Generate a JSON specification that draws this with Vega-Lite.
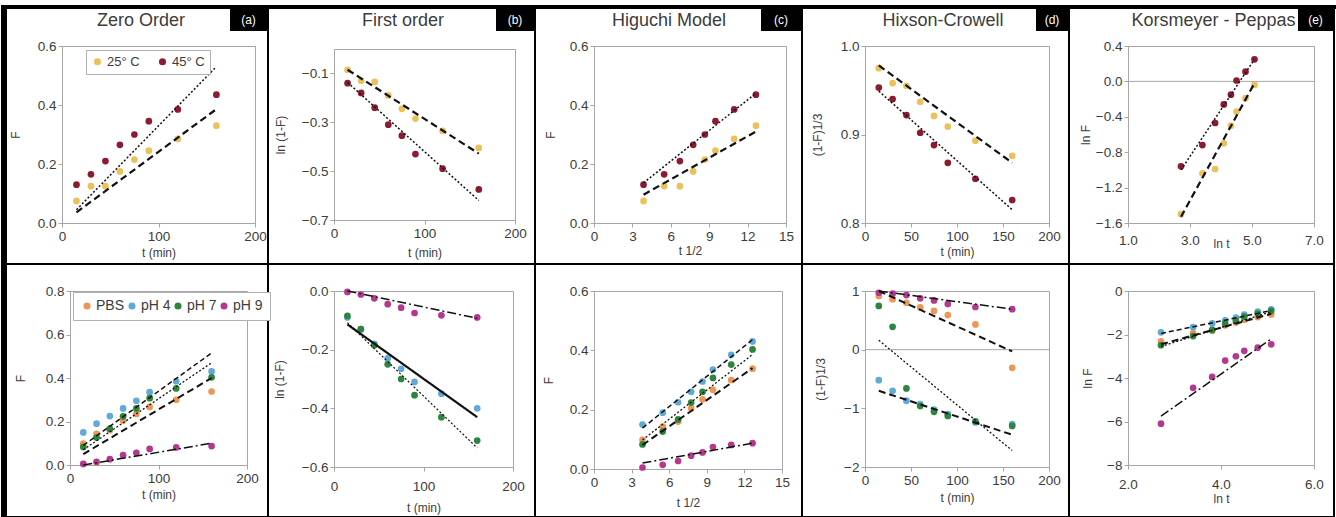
{
"$schema": "https://vega.github.io/schema/vega-lite/v6.json",
"background": "white",
"padding": {"left": 0, "top": 4, "right": 0, "bottom": 0},
"autosize": {"type": "pad"},
"config": {
 "font": "Liberation Sans",
 "view": {"stroke": "#a6a6a6"},
 "axis": {"grid": false, "domainColor": "#a6a6a6", "tickColor": "#a6a6a6", "tickSize": 4, "labelFont": "Liberation Sans", "labelFontSize": 13.5, "labelColor": "#3c3c3c", "titleFont": "Liberation Sans", "titleFontSize": 12, "titleFontWeight": "normal", "titleColor": "#3c3c3c", "labelFlush": false, "labelOverlap": false, "labelPadding": 2},
 "title": {"font": "Liberation Sans", "fontSize": 18, "fontWeight": "normal", "color": "#3c3c3c", "frame": "group", "anchor": "middle", "baseline": "alphabetic"},
 "legend": {"labelFont": "Liberation Sans", "labelColor": "#3c3c3c"}
},
"datasets": {
 "a": [{"s":"25° C","x":15,"y":0.075},{"s":"25° C","x":30,"y":0.125},{"s":"25° C","x":45,"y":0.125},{"s":"25° C","x":60,"y":0.175},{"s":"25° C","x":75,"y":0.215},{"s":"25° C","x":90,"y":0.245},{"s":"25° C","x":120,"y":0.285},{"s":"25° C","x":160,"y":0.33},
       {"s":"45° C","x":15,"y":0.13},{"s":"45° C","x":30,"y":0.165},{"s":"45° C","x":45,"y":0.21},{"s":"45° C","x":60,"y":0.265},{"s":"45° C","x":75,"y":0.3},{"s":"45° C","x":90,"y":0.345},{"s":"45° C","x":120,"y":0.385},{"s":"45° C","x":160,"y":0.435}],
 "a_fit": [{"s":"25° C","x":15,"y":0.036},{"s":"25° C","x":160,"y":0.386},{"s":"45° C","x":15,"y":0.045},{"s":"45° C","x":160,"y":0.53}],
 "b": [{"s":"25° C","x":15,"y":-0.085},{"s":"25° C","x":30,"y":-0.13},{"s":"25° C","x":45,"y":-0.135},{"s":"25° C","x":60,"y":-0.19},{"s":"25° C","x":75,"y":-0.245},{"s":"25° C","x":90,"y":-0.285},{"s":"25° C","x":120,"y":-0.335},{"s":"25° C","x":160,"y":-0.405},
       {"s":"45° C","x":15,"y":-0.14},{"s":"45° C","x":30,"y":-0.18},{"s":"45° C","x":45,"y":-0.24},{"s":"45° C","x":60,"y":-0.31},{"s":"45° C","x":75,"y":-0.355},{"s":"45° C","x":90,"y":-0.43},{"s":"45° C","x":120,"y":-0.49},{"s":"45° C","x":160,"y":-0.575}],
 "b_fit": [{"s":"25° C","x":15,"y":-0.085},{"s":"25° C","x":160,"y":-0.428},{"s":"45° C","x":15,"y":-0.137},{"s":"45° C","x":160,"y":-0.62}],
 "c": [{"s":"25° C","x":3.87,"y":0.075},{"s":"25° C","x":5.48,"y":0.125},{"s":"25° C","x":6.71,"y":0.125},{"s":"25° C","x":7.75,"y":0.175},{"s":"25° C","x":8.66,"y":0.215},{"s":"25° C","x":9.49,"y":0.245},{"s":"25° C","x":10.95,"y":0.285},{"s":"25° C","x":12.65,"y":0.33},
       {"s":"45° C","x":3.87,"y":0.13},{"s":"45° C","x":5.48,"y":0.165},{"s":"45° C","x":6.71,"y":0.21},{"s":"45° C","x":7.75,"y":0.265},{"s":"45° C","x":8.66,"y":0.3},{"s":"45° C","x":9.49,"y":0.345},{"s":"45° C","x":10.95,"y":0.385},{"s":"45° C","x":12.65,"y":0.435}],
 "c_fit": [{"s":"25° C","x":3.87,"y":0.096},{"s":"25° C","x":12.65,"y":0.31},{"s":"45° C","x":3.87,"y":0.136},{"s":"45° C","x":12.65,"y":0.44}],
 "d": [{"s":"25° C","x":15,"y":0.975},{"s":"25° C","x":30,"y":0.958},{"s":"25° C","x":45,"y":0.955},{"s":"25° C","x":60,"y":0.937},{"s":"25° C","x":75,"y":0.921},{"s":"25° C","x":90,"y":0.909},{"s":"25° C","x":120,"y":0.893},{"s":"25° C","x":160,"y":0.876},
       {"s":"45° C","x":15,"y":0.953},{"s":"45° C","x":30,"y":0.94},{"s":"45° C","x":45,"y":0.922},{"s":"45° C","x":60,"y":0.902},{"s":"45° C","x":75,"y":0.888},{"s":"45° C","x":90,"y":0.868},{"s":"45° C","x":120,"y":0.85},{"s":"45° C","x":160,"y":0.826}],
 "d_fit": [{"s":"25° C","x":15,"y":0.978},{"s":"25° C","x":160,"y":0.868},{"s":"45° C","x":15,"y":0.949},{"s":"45° C","x":160,"y":0.815}],
 "e": [{"s":"25° C","x":2.71,"y":-1.5},{"s":"25° C","x":3.4,"y":-1.04},{"s":"25° C","x":3.81,"y":-0.99},{"s":"25° C","x":4.09,"y":-0.7},{"s":"25° C","x":4.32,"y":-0.5},{"s":"25° C","x":4.5,"y":-0.34},{"s":"25° C","x":4.79,"y":-0.19},{"s":"25° C","x":5.08,"y":-0.04},
       {"s":"45° C","x":2.71,"y":-0.96},{"s":"45° C","x":3.4,"y":-0.72},{"s":"45° C","x":3.81,"y":-0.47},{"s":"45° C","x":4.09,"y":-0.26},{"s":"45° C","x":4.32,"y":-0.15},{"s":"45° C","x":4.5,"y":0.01},{"s":"45° C","x":4.79,"y":0.11},{"s":"45° C","x":5.08,"y":0.25}],
 "e_fit": [{"s":"25° C","x":2.71,"y":-1.53},{"s":"25° C","x":5.08,"y":-0.02},{"s":"45° C","x":2.71,"y":-1.0},{"s":"45° C","x":5.08,"y":0.25}],
 "f": [{"s":"PBS","x":15,"y":0.098},{"s":"PBS","x":30,"y":0.143},{"s":"PBS","x":45,"y":0.16},{"s":"PBS","x":60,"y":0.205},{"s":"PBS","x":75,"y":0.235},{"s":"PBS","x":90,"y":0.267},{"s":"PBS","x":120,"y":0.3},{"s":"PBS","x":160,"y":0.338},
       {"s":"pH 4","x":15,"y":0.15},{"s":"pH 4","x":30,"y":0.19},{"s":"pH 4","x":45,"y":0.225},{"s":"pH 4","x":60,"y":0.26},{"s":"pH 4","x":75,"y":0.295},{"s":"pH 4","x":90,"y":0.335},{"s":"pH 4","x":120,"y":0.385},{"s":"pH 4","x":160,"y":0.43},
       {"s":"pH 7","x":15,"y":0.083},{"s":"pH 7","x":30,"y":0.126},{"s":"pH 7","x":45,"y":0.167},{"s":"pH 7","x":60,"y":0.224},{"s":"pH 7","x":75,"y":0.26},{"s":"pH 7","x":90,"y":0.307},{"s":"pH 7","x":120,"y":0.352},{"s":"pH 7","x":160,"y":0.403},
       {"s":"pH 9","x":15,"y":0.005},{"s":"pH 9","x":30,"y":0.014},{"s":"pH 9","x":45,"y":0.027},{"s":"pH 9","x":60,"y":0.045},{"s":"pH 9","x":75,"y":0.056},{"s":"pH 9","x":90,"y":0.074},{"s":"pH 9","x":120,"y":0.081},{"s":"pH 9","x":160,"y":0.087}],
 "f_fit": [{"s":"PBS","x":15,"y":0.05},{"s":"PBS","x":160,"y":0.4},{"s":"pH 4","x":15,"y":0.09},{"s":"pH 4","x":160,"y":0.515},{"s":"pH 7","x":15,"y":0.07},{"s":"pH 7","x":160,"y":0.47},{"s":"pH 9","x":15,"y":0.0},{"s":"pH 9","x":160,"y":0.1}],
 "g": [{"s":"pH 4","x":15,"y":-0.09},{"s":"pH 4","x":30,"y":-0.13},{"s":"pH 4","x":45,"y":-0.18},{"s":"pH 4","x":60,"y":-0.23},{"s":"pH 4","x":75,"y":-0.265},{"s":"pH 4","x":90,"y":-0.31},{"s":"pH 4","x":120,"y":-0.35},{"s":"pH 4","x":160,"y":-0.4},
       {"s":"pH 7","x":15,"y":-0.085},{"s":"pH 7","x":30,"y":-0.13},{"s":"pH 7","x":45,"y":-0.185},{"s":"pH 7","x":60,"y":-0.25},{"s":"pH 7","x":75,"y":-0.3},{"s":"pH 7","x":90,"y":-0.355},{"s":"pH 7","x":120,"y":-0.43},{"s":"pH 7","x":160,"y":-0.51},
       {"s":"pH 9","x":15,"y":-0.003},{"s":"pH 9","x":30,"y":-0.012},{"s":"pH 9","x":45,"y":-0.025},{"s":"pH 9","x":60,"y":-0.045},{"s":"pH 9","x":75,"y":-0.057},{"s":"pH 9","x":90,"y":-0.075},{"s":"pH 9","x":120,"y":-0.083},{"s":"pH 9","x":160,"y":-0.09}],
 "g_fit": [{"s":"pH 4","x":15,"y":-0.114},{"s":"pH 4","x":160,"y":-0.43},{"s":"pH 7","x":15,"y":-0.108},{"s":"pH 7","x":160,"y":-0.535},{"s":"pH 9","x":15,"y":0.0},{"s":"pH 9","x":160,"y":-0.093}],
 "h": [{"s":"PBS","x":3.87,"y":0.098},{"s":"PBS","x":5.48,"y":0.143},{"s":"PBS","x":6.71,"y":0.16},{"s":"PBS","x":7.75,"y":0.205},{"s":"PBS","x":8.66,"y":0.235},{"s":"PBS","x":9.49,"y":0.267},{"s":"PBS","x":10.95,"y":0.3},{"s":"PBS","x":12.65,"y":0.338},
       {"s":"pH 4","x":3.87,"y":0.15},{"s":"pH 4","x":5.48,"y":0.19},{"s":"pH 4","x":6.71,"y":0.225},{"s":"pH 4","x":7.75,"y":0.26},{"s":"pH 4","x":8.66,"y":0.295},{"s":"pH 4","x":9.49,"y":0.335},{"s":"pH 4","x":10.95,"y":0.385},{"s":"pH 4","x":12.65,"y":0.43},
       {"s":"pH 7","x":3.87,"y":0.083},{"s":"pH 7","x":5.48,"y":0.126},{"s":"pH 7","x":6.71,"y":0.167},{"s":"pH 7","x":7.75,"y":0.224},{"s":"pH 7","x":8.66,"y":0.26},{"s":"pH 7","x":9.49,"y":0.307},{"s":"pH 7","x":10.95,"y":0.352},{"s":"pH 7","x":12.65,"y":0.403},
       {"s":"pH 9","x":3.87,"y":0.005},{"s":"pH 9","x":5.48,"y":0.014},{"s":"pH 9","x":6.71,"y":0.027},{"s":"pH 9","x":7.75,"y":0.045},{"s":"pH 9","x":8.66,"y":0.056},{"s":"pH 9","x":9.49,"y":0.074},{"s":"pH 9","x":10.95,"y":0.081},{"s":"pH 9","x":12.65,"y":0.087}],
 "h_fit": [{"s":"PBS","x":3.87,"y":0.081},{"s":"PBS","x":12.65,"y":0.34},{"s":"pH 4","x":3.87,"y":0.138},{"s":"pH 4","x":12.65,"y":0.436},{"s":"pH 7","x":3.87,"y":0.098},{"s":"pH 7","x":12.65,"y":0.386},{"s":"pH 9","x":3.87,"y":0.02},{"s":"pH 9","x":12.65,"y":0.087}],
 "i": [{"s":"PBS","x":15,"y":0.915},{"s":"PBS","x":30,"y":0.86},{"s":"PBS","x":45,"y":0.8},{"s":"PBS","x":60,"y":0.72},{"s":"PBS","x":75,"y":0.66},{"s":"PBS","x":90,"y":0.59},{"s":"PBS","x":120,"y":0.43},{"s":"PBS","x":160,"y":-0.31},
       {"s":"pH 4","x":15,"y":-0.52},{"s":"pH 4","x":30,"y":-0.7},{"s":"pH 4","x":45,"y":-0.87},{"s":"pH 4","x":60,"y":-0.93},{"s":"pH 4","x":75,"y":-1.02},{"s":"pH 4","x":90,"y":-1.1},{"s":"pH 4","x":120,"y":-1.24},{"s":"pH 4","x":160,"y":-1.27},
       {"s":"pH 7","x":15,"y":0.745},{"s":"pH 7","x":30,"y":0.39},{"s":"pH 7","x":45,"y":-0.66},{"s":"pH 7","x":60,"y":-0.96},{"s":"pH 7","x":75,"y":-1.06},{"s":"pH 7","x":90,"y":-1.13},{"s":"pH 7","x":120,"y":-1.22},{"s":"pH 7","x":160,"y":-1.3},
       {"s":"pH 9","x":15,"y":0.97},{"s":"pH 9","x":30,"y":0.955},{"s":"pH 9","x":45,"y":0.93},{"s":"pH 9","x":60,"y":0.875},{"s":"pH 9","x":75,"y":0.84},{"s":"pH 9","x":90,"y":0.78},{"s":"pH 9","x":120,"y":0.727},{"s":"pH 9","x":160,"y":0.69}],
 "i_fit": [{"s":"PBS","x":15,"y":1.0},{"s":"PBS","x":160,"y":-0.03},{"s":"pH 4","x":15,"y":-0.7},{"s":"pH 4","x":160,"y":-1.45},{"s":"pH 7","x":15,"y":0.16},{"s":"pH 7","x":160,"y":-1.72},{"s":"pH 9","x":15,"y":1.0},{"s":"pH 9","x":160,"y":0.69}],
 "j": [{"s":"PBS","x":2.71,"y":-2.32},{"s":"PBS","x":3.4,"y":-1.94},{"s":"PBS","x":3.81,"y":-1.83},{"s":"PBS","x":4.09,"y":-1.58},{"s":"PBS","x":4.32,"y":-1.45},{"s":"PBS","x":4.5,"y":-1.32},{"s":"PBS","x":4.79,"y":-1.2},{"s":"PBS","x":5.08,"y":-1.08},
       {"s":"pH 4","x":2.71,"y":-1.9},{"s":"pH 4","x":3.4,"y":-1.66},{"s":"pH 4","x":3.81,"y":-1.49},{"s":"pH 4","x":4.09,"y":-1.35},{"s":"pH 4","x":4.32,"y":-1.22},{"s":"pH 4","x":4.5,"y":-1.09},{"s":"pH 4","x":4.79,"y":-0.95},{"s":"pH 4","x":5.08,"y":-0.84},
       {"s":"pH 7","x":2.71,"y":-2.49},{"s":"pH 7","x":3.4,"y":-2.07},{"s":"pH 7","x":3.81,"y":-1.79},{"s":"pH 7","x":4.09,"y":-1.5},{"s":"pH 7","x":4.32,"y":-1.35},{"s":"pH 7","x":4.5,"y":-1.18},{"s":"pH 7","x":4.79,"y":-1.04},{"s":"pH 7","x":5.08,"y":-0.91},
       {"s":"pH 9","x":2.71,"y":-6.1},{"s":"pH 9","x":3.4,"y":-4.45},{"s":"pH 9","x":3.81,"y":-3.95},{"s":"pH 9","x":4.09,"y":-3.2},{"s":"pH 9","x":4.32,"y":-3.0},{"s":"pH 9","x":4.5,"y":-2.75},{"s":"pH 9","x":4.79,"y":-2.6},{"s":"pH 9","x":5.08,"y":-2.45}],
 "j_fit": [{"s":"PBS","x":2.71,"y":-2.45},{"s":"PBS","x":5.08,"y":-1.05},{"s":"pH 4","x":2.71,"y":-1.95},{"s":"pH 4","x":5.08,"y":-0.9},{"s":"pH 7","x":2.71,"y":-2.55},{"s":"pH 7","x":5.08,"y":-0.95},{"s":"pH 9","x":2.71,"y":-5.75},{"s":"pH 9","x":5.08,"y":-2.2}]
},
"columns": 5,
"spacing": {"row": 68, "column": 79},
"bounds": "flush",
"align": "each",
"center": true,
"resolve": {"scale": {"x": "independent", "y": "independent", "color": "independent", "strokeDash": "independent", "strokeWidth": "independent"}},
"concat": [
 {"width": 193, "height": 177,
  "title": {"text": "Zero Order", "dx": -17.5, "offset": 9},
  "layer": [
   {"data": {"name": "a"}, "mark": {"type": "circle", "size": 45, "opacity": 1},
    "encoding": {
     "x": {"field": "x", "type": "quantitative", "scale": {"domain": [0, 200], "nice": false, "zero": false}, "axis": {"title": "t (min)", "values": [0, 100, 200], "tickCount": 12, "labelOverlap": false, "minExtent": 20, "maxExtent": 20, "titlePadding": 4}},
     "y": {"field": "y", "type": "quantitative", "scale": {"domain": [0, 0.6], "nice": false, "zero": false}, "axis": {"title": "F", "values": [0, 0.2, 0.4, 0.6], "tickCount": 12, "labelOverlap": false, "format": ".1f", "minExtent": 28, "maxExtent": 28, "titlePadding": 12}},
     "color": {"field": "s", "type": "nominal", "scale": {"domain": ["25° C", "45° C"], "range": ["#ecc05a", "#8b1a33"]},
      "legend": {"orient": "none", "legendX": 24, "legendY": 4, "direction": "horizontal", "title": null, "fillColor": "white", "strokeColor": "#b0b0b0", "padding": 5, "labelFontSize": 13, "symbolSize": 50, "symbolType": "circle", "columnPadding": 16, "labelOffset": 3}}}},
   {"data": {"name": "a_fit"}, "mark": {"type": "line", "color": "#111111"},
    "encoding": {
     "x": {"field": "x", "type": "quantitative", "scale": {"domain": [0, 200], "nice": false, "zero": false}, "axis": {"title": "t (min)"}},
     "y": {"field": "y", "type": "quantitative", "scale": {"domain": [0, 0.6], "nice": false, "zero": false}, "axis": {"title": "F"}},
     "strokeDash": {"field": "s", "type": "nominal", "scale": {"domain": ["25° C", "45° C"], "range": [[7, 4], [2, 2]]}, "legend": null},
     "strokeWidth": {"field": "s", "type": "ordinal", "scale": {"type": "ordinal", "domain": ["25° C", "45° C"], "range": [2.2, 1.5]}, "legend": null}}}
  ]},
 {"width": 181, "height": 171,
  "title": {"text": "First order", "dx": -21.5, "offset": 19},
  "layer": [
   {"data": {"name": "b"}, "mark": {"type": "circle", "size": 45, "opacity": 1},
    "encoding": {
     "x": {"field": "x", "type": "quantitative", "scale": {"domain": [0, 200], "nice": false, "zero": false}, "axis": {"title": "t (min)", "values": [0, 100, 200], "tickCount": 12, "labelOverlap": false, "minExtent": 20, "maxExtent": 20, "titlePadding": 7}},
     "y": {"field": "y", "type": "quantitative", "scale": {"domain": [-0.7, 0], "nice": false, "zero": false}, "axis": {"title": "ln (1-F)", "values": [-0.7, -0.5, -0.3, -0.1], "tickCount": 12, "labelOverlap": false, "format": ".1f", "minExtent": 28, "maxExtent": 28, "titlePadding": 19}},
     "color": {"field": "s", "type": "nominal", "scale": {"domain": ["25° C", "45° C"], "range": ["#ecc05a", "#8b1a33"]}, "legend": null}}},
   {"data": {"name": "b_fit"}, "mark": {"type": "line", "color": "#111111"},
    "encoding": {
     "x": {"field": "x", "type": "quantitative", "scale": {"domain": [0, 200], "nice": false, "zero": false}, "axis": {"title": "t (min)"}},
     "y": {"field": "y", "type": "quantitative", "scale": {"domain": [-0.7, 0], "nice": false, "zero": false}, "axis": {"title": "ln (1-F)"}},
     "strokeDash": {"field": "s", "type": "nominal", "scale": {"domain": ["25° C", "45° C"], "range": [[7, 4], [2, 2]]}, "legend": null},
     "strokeWidth": {"field": "s", "type": "ordinal", "scale": {"type": "ordinal", "domain": ["25° C", "45° C"], "range": [2.2, 1.5]}, "legend": null}}}
  ]},
 {"width": 192, "height": 177,
  "title": {"text": "Higuchi Model", "dx": -21, "offset": 9},
  "layer": [
   {"data": {"name": "c"}, "mark": {"type": "circle", "size": 45, "opacity": 1},
    "encoding": {
     "x": {"field": "x", "type": "quantitative", "scale": {"domain": [0, 15], "nice": false, "zero": false}, "axis": {"title": "t 1/2", "values": [0, 3, 6, 9, 12, 15], "tickCount": 12, "labelOverlap": false, "minExtent": 20, "maxExtent": 20, "titlePadding": 2}},
     "y": {"field": "y", "type": "quantitative", "scale": {"domain": [0, 0.6], "nice": false, "zero": false}, "axis": {"title": "F", "values": [0, 0.2, 0.4, 0.6], "tickCount": 12, "labelOverlap": false, "format": ".1f", "minExtent": 28, "maxExtent": 28, "titlePadding": 9}},
     "color": {"field": "s", "type": "nominal", "scale": {"domain": ["25° C", "45° C"], "range": ["#ecc05a", "#8b1a33"]}, "legend": null}}},
   {"data": {"name": "c_fit"}, "mark": {"type": "line", "color": "#111111"},
    "encoding": {
     "x": {"field": "x", "type": "quantitative", "scale": {"domain": [0, 15], "nice": false, "zero": false}, "axis": {"title": "t 1/2"}},
     "y": {"field": "y", "type": "quantitative", "scale": {"domain": [0, 0.6], "nice": false, "zero": false}, "axis": {"title": "F"}},
     "strokeDash": {"field": "s", "type": "nominal", "scale": {"domain": ["25° C", "45° C"], "range": [[7, 4], [2, 2]]}, "legend": null},
     "strokeWidth": {"field": "s", "type": "ordinal", "scale": {"type": "ordinal", "domain": ["25° C", "45° C"], "range": [2.2, 1.5]}, "legend": null}}}
  ]},
 {"width": 184, "height": 177,
  "title": {"text": "Hixson-Crowell", "dx": -14, "offset": 9},
  "layer": [
   {"data": {"name": "d"}, "mark": {"type": "circle", "size": 45, "opacity": 1},
    "encoding": {
     "x": {"field": "x", "type": "quantitative", "scale": {"domain": [0, 200], "nice": false, "zero": false}, "axis": {"title": "t (min)", "values": [0, 50, 100, 150, 200], "tickCount": 12, "labelOverlap": false, "minExtent": 20, "maxExtent": 20, "titlePadding": 3}},
     "y": {"field": "y", "type": "quantitative", "scale": {"domain": [0.8, 1.0], "nice": false, "zero": false}, "axis": {"title": "(1-F)1/3", "values": [0.8, 0.9, 1.0], "tickCount": 12, "labelOverlap": false, "format": ".1f", "minExtent": 28, "maxExtent": 28, "titlePadding": 13}},
     "color": {"field": "s", "type": "nominal", "scale": {"domain": ["25° C", "45° C"], "range": ["#ecc05a", "#8b1a33"]}, "legend": null}}},
   {"data": {"name": "d_fit"}, "mark": {"type": "line", "color": "#111111"},
    "encoding": {
     "x": {"field": "x", "type": "quantitative", "scale": {"domain": [0, 200], "nice": false, "zero": false}, "axis": {"title": "t (min)"}},
     "y": {"field": "y", "type": "quantitative", "scale": {"domain": [0.8, 1.0], "nice": false, "zero": false}, "axis": {"title": "(1-F)1/3"}},
     "strokeDash": {"field": "s", "type": "nominal", "scale": {"domain": ["25° C", "45° C"], "range": [[7, 4], [2, 2]]}, "legend": null},
     "strokeWidth": {"field": "s", "type": "ordinal", "scale": {"type": "ordinal", "domain": ["25° C", "45° C"], "range": [2.2, 1.5]}, "legend": null}}}
  ]},
 {"width": 186, "height": 177,
  "title": {"text": "Korsmeyer - Peppas", "dx": -7.5, "offset": 9},
  "layer": [
   {"data": {"values": [{}]}, "mark": {"type": "rule", "color": "#a6a6a6"}, "encoding": {"y": {"datum": 0, "scale": {"domain": [-1.6, 0.4], "nice": false, "zero": false}}}},
   {"data": {"name": "e"}, "mark": {"type": "circle", "size": 45, "opacity": 1},
    "encoding": {
     "x": {"field": "x", "type": "quantitative", "scale": {"domain": [1, 7], "nice": false, "zero": false}, "axis": {"title": "ln t", "values": [1, 3, 5, 7], "tickCount": 12, "labelOverlap": false, "format": ".1f", "labelPadding": 6, "minExtent": 20, "maxExtent": 20, "titlePadding": -5}},
     "y": {"field": "y", "type": "quantitative", "scale": {"domain": [-1.6, 0.4], "nice": false, "zero": false}, "axis": {"title": "ln F", "values": [-1.6, -1.2, -0.8, -0.4, 0, 0.4], "tickCount": 12, "labelOverlap": false, "format": ".1f", "minExtent": 28, "maxExtent": 28, "titlePadding": 8}},
     "color": {"field": "s", "type": "nominal", "scale": {"domain": ["25° C", "45° C"], "range": ["#ecc05a", "#8b1a33"]}, "legend": null}}},
   {"data": {"name": "e_fit"}, "mark": {"type": "line", "color": "#111111"},
    "encoding": {
     "x": {"field": "x", "type": "quantitative", "scale": {"domain": [1, 7], "nice": false, "zero": false}, "axis": {"title": "ln t"}},
     "y": {"field": "y", "type": "quantitative", "scale": {"domain": [-1.6, 0.4], "nice": false, "zero": false}, "axis": {"title": "ln F"}},
     "strokeDash": {"field": "s", "type": "nominal", "scale": {"domain": ["25° C", "45° C"], "range": [[7, 4], [2, 2]]}, "legend": null},
     "strokeWidth": {"field": "s", "type": "ordinal", "scale": {"type": "ordinal", "domain": ["25° C", "45° C"], "range": [2.2, 1.5]}, "legend": null}}}
  ]},
 {"width": 177, "height": 174,
  "layer": [
   {"data": {"values": [{}]}, "mark": {"type": "rect", "color": "black"}, "encoding": {"x": {"datum": -77.966}, "x2": {"datum": -71.186}, "y": {"datum": 2.11494}, "y2": {"datum": -0.24368}}},
   {"data": {"values": [{}]}, "mark": {"type": "rect", "color": "black"}, "encoding": {"x": {"datum": -77.966}, "x2": {"datum": 1431.638}, "y": {"datum": 2.11494}, "y2": {"datum": 2.09655}}},
   {"data": {"values": [{}]}, "mark": {"type": "rect", "color": "black"}, "encoding": {"x": {"datum": 222.599}, "x2": {"datum": 224.859}, "y": {"datum": 2.09655}, "y2": {"datum": -0.24368}}},
   {"data": {"values": [{}]}, "mark": {"type": "rect", "color": "black"}, "encoding": {"x": {"datum": 524.294}, "x2": {"datum": 526.554}, "y": {"datum": 2.09655}, "y2": {"datum": -0.24368}}},
   {"data": {"values": [{}]}, "mark": {"type": "rect", "color": "black"}, "encoding": {"x": {"datum": 825.989}, "x2": {"datum": 828.249}, "y": {"datum": 2.09655}, "y2": {"datum": -0.24368}}},
   {"data": {"values": [{}]}, "mark": {"type": "rect", "color": "black"}, "encoding": {"x": {"datum": 1127.684}, "x2": {"datum": 1129.944}, "y": {"datum": 2.09655}, "y2": {"datum": -0.24368}}},
   {"data": {"values": [{}]}, "mark": {"type": "rect", "color": "black"}, "encoding": {"x": {"datum": 1427.119}, "x2": {"datum": 1429.379}, "y": {"datum": 2.09655}, "y2": {"datum": -0.24368}}},
   {"data": {"values": [{}]}, "mark": {"type": "rect", "color": "black"}, "encoding": {"x": {"datum": -77.966}, "x2": {"datum": 1429.379}, "y": {"datum": 0.92874}, "y2": {"datum": 0.91954}}},
   {"data": {"values": [{}]}, "mark": {"type": "rect", "color": "black"}, "encoding": {"x": {"datum": -77.966}, "x2": {"datum": 1429.379}, "y": {"datum": -0.23448}, "y2": {"datum": -0.24368}}},
   {"data": {"values": [{}]}, "mark": {"type": "rect", "color": "black"}, "encoding": {"x": {"datum": 180.791}, "x2": {"datum": 222.599}, "y": {"datum": 2.09655}, "y2": {"datum": 1.9954}}},
   {"data": {"values": [{}]}, "mark": {"type": "rect", "color": "black"}, "encoding": {"x": {"datum": 481.356}, "x2": {"datum": 524.294}, "y": {"datum": 2.09655}, "y2": {"datum": 1.9954}}},
   {"data": {"values": [{}]}, "mark": {"type": "rect", "color": "black"}, "encoding": {"x": {"datum": 780.791}, "x2": {"datum": 825.989}, "y": {"datum": 2.09655}, "y2": {"datum": 1.9954}}},
   {"data": {"values": [{}]}, "mark": {"type": "rect", "color": "black"}, "encoding": {"x": {"datum": 1091.525}, "x2": {"datum": 1127.684}, "y": {"datum": 2.09655}, "y2": {"datum": 1.9954}}},
   {"data": {"values": [{}]}, "mark": {"type": "rect", "color": "black"}, "encoding": {"x": {"datum": 1387.571}, "x2": {"datum": 1427.119}, "y": {"datum": 2.09655}, "y2": {"datum": 1.9954}}},
   {"data": {"values": [{}]}, "mark": {"type": "text", "color": "white", "fontSize": 12, "align": "center", "baseline": "middle", "text": "(a)"}, "encoding": {"x": {"datum": 201.695}, "y": {"datum": 2.04598}}},
   {"data": {"values": [{}]}, "mark": {"type": "text", "color": "white", "fontSize": 12, "align": "center", "baseline": "middle", "text": "(b)"}, "encoding": {"x": {"datum": 502.825}, "y": {"datum": 2.04598}}},
   {"data": {"values": [{}]}, "mark": {"type": "text", "color": "white", "fontSize": 12, "align": "center", "baseline": "middle", "text": "(c)"}, "encoding": {"x": {"datum": 803.39}, "y": {"datum": 2.04598}}},
   {"data": {"values": [{}]}, "mark": {"type": "text", "color": "white", "fontSize": 12, "align": "center", "baseline": "middle", "text": "(d)"}, "encoding": {"x": {"datum": 1109.605}, "y": {"datum": 2.04598}}},
   {"data": {"values": [{}]}, "mark": {"type": "text", "color": "white", "fontSize": 12, "align": "center", "baseline": "middle", "text": "(e)"}, "encoding": {"x": {"datum": 1407.345}, "y": {"datum": 2.04598}}},
   {"data": {"name": "f"}, "mark": {"type": "circle", "size": 45, "opacity": 1},
    "encoding": {
     "x": {"field": "x", "type": "quantitative", "scale": {"domain": [0, 200], "nice": false, "zero": false}, "axis": {"title": "t (min)", "values": [0, 100, 200], "tickCount": 12, "labelOverlap": false, "minExtent": 20, "maxExtent": 20, "titlePadding": 4}},
     "y": {"field": "y", "type": "quantitative", "scale": {"domain": [0, 0.8], "nice": false, "zero": false}, "axis": {"title": "F", "values": [0, 0.2, 0.4, 0.6, 0.8], "tickCount": 12, "labelOverlap": false, "format": ".1f", "minExtent": 28, "maxExtent": 28, "titlePadding": 15}},
     "color": {"field": "s", "type": "nominal", "scale": {"domain": ["PBS", "pH 4", "pH 7", "pH 9"], "range": ["#ee9655", "#62a9d6", "#2e8540", "#b3398f"]},
      "legend": {"orient": "none", "legendX": 3, "legendY": 1, "direction": "horizontal", "title": null, "fillColor": "white", "strokeColor": "#b0b0b0", "padding": 7, "labelFontSize": 14, "symbolSize": 50, "symbolType": "circle", "columnPadding": 0, "labelOffset": 2}}}},
   {"data": {"name": "f_fit"}, "mark": {"type": "line", "color": "#111111"},
    "encoding": {
     "x": {"field": "x", "type": "quantitative", "scale": {"domain": [0, 200], "nice": false, "zero": false}, "axis": {"title": "t (min)"}},
     "y": {"field": "y", "type": "quantitative", "scale": {"domain": [0, 0.8], "nice": false, "zero": false}, "axis": {"title": "F"}},
     "strokeDash": {"field": "s", "type": "nominal", "scale": {"domain": ["PBS", "pH 4", "pH 7", "pH 9"], "range": [[7, 4], [5, 3], [2, 2], [9, 3, 2, 3]]}, "legend": null},
     "strokeWidth": {"field": "s", "type": "ordinal", "scale": {"type": "ordinal", "domain": ["PBS", "pH 4", "pH 7", "pH 9"], "range": [2, 1.5, 1.3, 1.5]}, "legend": null}}}
  ]},
 {"width": 179, "height": 176,
  "layer": [
   {"data": {"name": "g"}, "mark": {"type": "circle", "size": 45, "opacity": 1},
    "encoding": {
     "x": {"field": "x", "type": "quantitative", "scale": {"domain": [0, 200], "nice": false, "zero": false}, "axis": {"title": "t (min)", "values": [0, 100, 200], "tickCount": 12, "labelOverlap": false, "labelPadding": 8, "minExtent": 20, "maxExtent": 20, "titlePadding": 15}},
     "y": {"field": "y", "type": "quantitative", "scale": {"domain": [-0.6, 0], "nice": false, "zero": false}, "axis": {"title": "ln (1-F)", "values": [-0.6, -0.4, -0.2, 0], "tickCount": 12, "labelOverlap": false, "format": ".1f", "minExtent": 28, "maxExtent": 28, "titlePadding": 20}},
     "color": {"field": "s", "type": "nominal", "scale": {"domain": ["PBS", "pH 4", "pH 7", "pH 9"], "range": ["#ee9655", "#62a9d6", "#2e8540", "#b3398f"]}, "legend": null}}},
   {"data": {"name": "g_fit"}, "mark": {"type": "line", "color": "#111111"},
    "encoding": {
     "x": {"field": "x", "type": "quantitative", "scale": {"domain": [0, 200], "nice": false, "zero": false}, "axis": {"title": "t (min)"}},
     "y": {"field": "y", "type": "quantitative", "scale": {"domain": [-0.6, 0], "nice": false, "zero": false}, "axis": {"title": "ln (1-F)"}},
     "strokeDash": {"field": "s", "type": "nominal", "scale": {"domain": ["pH 4", "pH 7", "pH 9"], "range": [[1, 0], [2, 2], [9, 3, 2, 3]]}, "legend": null},
     "strokeWidth": {"field": "s", "type": "ordinal", "scale": {"type": "ordinal", "domain": ["pH 4", "pH 7", "pH 9"], "range": [2.2, 1.2, 1.5]}, "legend": null}}}
  ]},
 {"width": 188, "height": 178,
  "layer": [
   {"data": {"name": "h"}, "mark": {"type": "circle", "size": 45, "opacity": 1},
    "encoding": {
     "x": {"field": "x", "type": "quantitative", "scale": {"domain": [0, 15], "nice": false, "zero": false}, "axis": {"title": "t 1/2", "values": [0, 3, 6, 9, 12, 15], "tickCount": 12, "labelOverlap": false, "minExtent": 20, "maxExtent": 20, "titlePadding": 8}},
     "y": {"field": "y", "type": "quantitative", "scale": {"domain": [0, 0.6], "nice": false, "zero": false}, "axis": {"title": "F", "values": [0, 0.2, 0.4, 0.6], "tickCount": 12, "labelOverlap": false, "format": ".1f", "minExtent": 28, "maxExtent": 28, "titlePadding": 11}},
     "color": {"field": "s", "type": "nominal", "scale": {"domain": ["PBS", "pH 4", "pH 7", "pH 9"], "range": ["#ee9655", "#62a9d6", "#2e8540", "#b3398f"]}, "legend": null}}},
   {"data": {"name": "h_fit"}, "mark": {"type": "line", "color": "#111111"},
    "encoding": {
     "x": {"field": "x", "type": "quantitative", "scale": {"domain": [0, 15], "nice": false, "zero": false}, "axis": {"title": "t 1/2"}},
     "y": {"field": "y", "type": "quantitative", "scale": {"domain": [0, 0.6], "nice": false, "zero": false}, "axis": {"title": "F"}},
     "strokeDash": {"field": "s", "type": "nominal", "scale": {"domain": ["PBS", "pH 4", "pH 7", "pH 9"], "range": [[7, 4], [5, 3], [2, 2], [9, 3, 2, 3]]}, "legend": null},
     "strokeWidth": {"field": "s", "type": "ordinal", "scale": {"type": "ordinal", "domain": ["PBS", "pH 4", "pH 7", "pH 9"], "range": [2, 1.5, 1.3, 1.5]}, "legend": null}}}
  ]},
 {"width": 184, "height": 176,
  "layer": [
   {"data": {"values": [{}]}, "mark": {"type": "rule", "color": "#a6a6a6"}, "encoding": {"y": {"datum": 0, "scale": {"domain": [-2, 1], "nice": false, "zero": false}}}},
   {"data": {"name": "i"}, "mark": {"type": "circle", "size": 45, "opacity": 1},
    "encoding": {
     "x": {"field": "x", "type": "quantitative", "scale": {"domain": [0, 200], "nice": false, "zero": false}, "axis": {"title": "t (min)", "values": [0, 50, 100, 150, 200], "tickCount": 12, "labelOverlap": false, "minExtent": 20, "maxExtent": 20, "titlePadding": 5}},
     "y": {"field": "y", "type": "quantitative", "scale": {"domain": [-2, 1], "nice": false, "zero": false}, "axis": {"title": "(1-F)1/3", "values": [-2, -1, 0, 1], "tickCount": 12, "labelOverlap": false, "format": "d", "minExtent": 28, "maxExtent": 28, "titlePadding": 10}},
     "color": {"field": "s", "type": "nominal", "scale": {"domain": ["PBS", "pH 4", "pH 7", "pH 9"], "range": ["#ee9655", "#62a9d6", "#2e8540", "#b3398f"]}, "legend": null}}},
   {"data": {"name": "i_fit"}, "mark": {"type": "line", "color": "#111111"},
    "encoding": {
     "x": {"field": "x", "type": "quantitative", "scale": {"domain": [0, 200], "nice": false, "zero": false}, "axis": {"title": "t (min)"}},
     "y": {"field": "y", "type": "quantitative", "scale": {"domain": [-2, 1], "nice": false, "zero": false}, "axis": {"title": "(1-F)1/3"}},
     "strokeDash": {"field": "s", "type": "nominal", "scale": {"domain": ["PBS", "pH 4", "pH 7", "pH 9"], "range": [[7, 4], [7, 4], [2, 2], [9, 3, 2, 3]]}, "legend": null},
     "strokeWidth": {"field": "s", "type": "ordinal", "scale": {"type": "ordinal", "domain": ["PBS", "pH 4", "pH 7", "pH 9"], "range": [2, 2, 1.3, 1.5]}, "legend": null}}}
  ]},
 {"width": 186, "height": 174,
  "layer": [
   {"data": {"name": "j"}, "mark": {"type": "circle", "size": 45, "opacity": 1},
    "encoding": {
     "x": {"field": "x", "type": "quantitative", "scale": {"domain": [2, 6], "nice": false, "zero": false}, "axis": {"title": "ln t", "values": [2, 4, 6], "tickCount": 12, "labelOverlap": false, "format": ".1f", "labelPadding": 8, "minExtent": 20, "maxExtent": 20, "titlePadding": 8}},
     "y": {"field": "y", "type": "quantitative", "scale": {"domain": [-8, 0], "nice": false, "zero": false}, "axis": {"title": "ln F", "values": [-8, -6, -4, -2, 0], "tickCount": 12, "labelOverlap": false, "format": "d", "minExtent": 28, "maxExtent": 28, "titlePadding": 6}},
     "color": {"field": "s", "type": "nominal", "scale": {"domain": ["PBS", "pH 4", "pH 7", "pH 9"], "range": ["#ee9655", "#62a9d6", "#2e8540", "#b3398f"]}, "legend": null}}},
   {"data": {"name": "j_fit"}, "mark": {"type": "line", "color": "#111111"},
    "encoding": {
     "x": {"field": "x", "type": "quantitative", "scale": {"domain": [2, 6], "nice": false, "zero": false}, "axis": {"title": "ln t"}},
     "y": {"field": "y", "type": "quantitative", "scale": {"domain": [-8, 0], "nice": false, "zero": false}, "axis": {"title": "ln F"}},
     "strokeDash": {"field": "s", "type": "nominal", "scale": {"domain": ["PBS", "pH 4", "pH 7", "pH 9"], "range": [[7, 4], [5, 3], [2, 2], [9, 3, 2, 3]]}, "legend": null},
     "strokeWidth": {"field": "s", "type": "ordinal", "scale": {"type": "ordinal", "domain": ["PBS", "pH 4", "pH 7", "pH 9"], "range": [2, 1.5, 1.3, 1.5]}, "legend": null}}}
  ]}
]
}
